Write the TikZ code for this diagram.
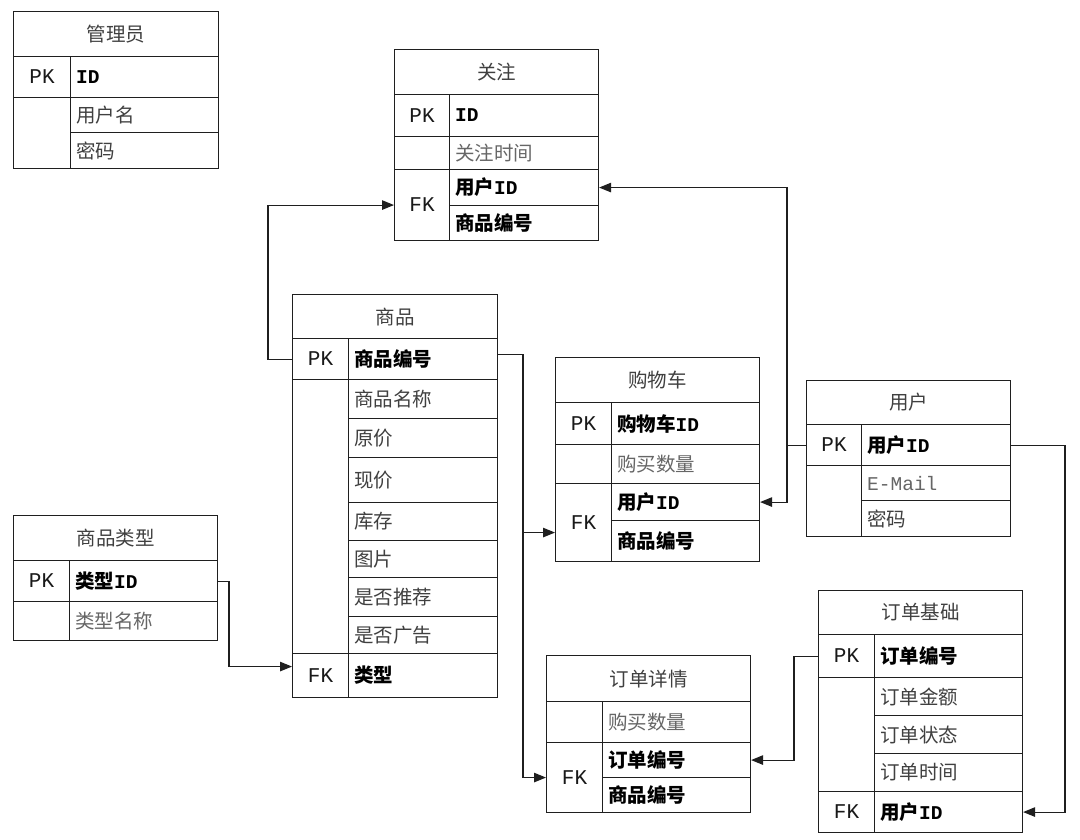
\documentclass[tikz,border=0pt]{standalone}
\usepackage{fontspec}
\setmainfont{Noto Sans CJK SC}
\newfontfamily\latf{Liberation Mono}[Scale=1.0]
\usetikzlibrary{arrows.meta,calc}
\newcommand\la[1]{{\latf #1}}
\tikzset{
  cellbox/.style={draw=black!88, line width=1.1pt, rectangle, inner sep=0pt, anchor=north west},
  ltxt/.style={anchor=west, inner sep=0pt, font=\fontsize{19.5}{22}\selectfont, text=black!75},
  ctxt/.style={anchor=center, inner sep=0pt, font=\fontsize{19.5}{22}\selectfont, text=black!75},
  keyt/.style={text=black!90, font=\fontsize{21}{24}\selectfont},
  bd/.style={text=black, font=\fontsize{19.5}{22}\selectfont\bfseries},
  lt/.style={text=black!60},
  fk/.style={draw=black!88, line width=1.1pt, -{Triangle[length=12pt,width=9.5pt]}},
}
\newcommand\ercL[7][]{\node[cellbox, minimum width={#5-#3}, minimum height={#6-#4}] (#2) at (#3,#4) {};
  \node[ltxt,#1] (#2-t) at ([xshift=6pt]#2.west) {#7};}
\newcommand\ercC[7][]{\node[cellbox, minimum width={#5-#3}, minimum height={#6-#4}] (#2) at (#3,#4) {};
  \node[ctxt,#1] (#2-t) at (#2.center) {#7};}
\newcommand\ercE[5]{\node[cellbox, minimum width={#4-#2}, minimum height={#5-#3}] (#1) at (#2,#3) {};}
\begin{document}
\begin{tikzpicture}[x=1pt,y=-1pt]
\useasboundingbox[fill=white] (0,0) rectangle (1080,839);

% 管理员
\ercC{gly}{13}{11}{218}{56}{管理员}
\ercC[keyt]{glyk1}{13}{56}{70}{97}{\la{PK}}
\ercL[bd]{glyf1}{70}{56}{218}{97}{\la{ID}}
\ercE{glyk2}{13}{97}{70}{168}
\ercL{glyf2}{70}{97}{218}{132}{用户名}
\ercL{glyf3}{70}{132}{218}{168}{密码}

% 关注
\ercC{gz}{394}{49}{598}{94}{关注}
\ercC[keyt]{gzk1}{394}{94}{449}{136}{\la{PK}}
\ercL[bd]{gzf1}{449}{94}{598}{136}{\la{ID}}
\ercE{gzk2}{394}{136}{449}{169}
\ercL[lt]{gzf2}{449}{136}{598}{169}{关注时间}
\ercC[keyt]{gzk3}{394}{169}{449}{240}{\la{FK}}
\ercL[bd]{gzf3}{449}{169}{598}{205}{用户\la{ID}}
\ercL[bd]{gzf4}{449}{205}{598}{240}{商品编号}

% 商品
\ercC{sp}{292}{294}{497}{338}{商品}
\ercC[keyt]{spk1}{292}{338}{348}{379}{\la{PK}}
\ercL[bd]{spf1}{348}{338}{497}{379}{商品编号}
\ercE{spk2}{292}{379}{348}{653}
\ercL{spf2}{348}{379}{497}{418}{商品名称}
\ercL{spf3}{348}{418}{497}{457}{原价}
\ercL{spf4}{348}{457}{497}{502}{现价}
\ercL{spf5}{348}{502}{497}{540}{库存}
\ercL{spf6}{348}{540}{497}{577}{图片}
\ercL{spf7}{348}{577}{497}{616}{是否推荐}
\ercL{spf8}{348}{616}{497}{653}{是否广告}
\ercC[keyt]{spk3}{292}{653}{348}{697}{\la{FK}}
\ercL[bd]{spf9}{348}{653}{497}{697}{类型}

% 购物车
\ercC{gwc}{555}{357}{759}{402}{购物车}
\ercC[keyt]{gwck1}{555}{402}{611}{444}{\la{PK}}
\ercL[bd]{gwcf1}{611}{402}{759}{444}{购物车\la{ID}}
\ercE{gwck2}{555}{444}{611}{483}
\ercL[lt]{gwcf2}{611}{444}{759}{483}{购买数量}
\ercC[keyt]{gwck3}{555}{483}{611}{561}{\la{FK}}
\ercL[bd]{gwcf3}{611}{483}{759}{520}{用户\la{ID}}
\ercL[bd]{gwcf4}{611}{520}{759}{561}{商品编号}

% 用户
\ercC{yh}{806}{380}{1010}{424}{用户}
\ercC[keyt]{yhk1}{806}{424}{861}{465}{\la{PK}}
\ercL[bd]{yhf1}{861}{424}{1010}{465}{用户\la{ID}}
\ercE{yhk2}{806}{465}{861}{536}
\ercL[lt]{yhf2}{861}{465}{1010}{500}{\la{E-Mail}}
\ercL{yhf3}{861}{500}{1010}{536}{密码}

% 商品类型
\ercC{splx}{13}{515}{217}{560}{商品类型}
\ercC[keyt]{splxk1}{13}{560}{69}{601}{\la{PK}}
\ercL[bd]{splxf1}{69}{560}{217}{601}{类型\la{ID}}
\ercE{splxk2}{13}{601}{69}{640}
\ercL[lt]{splxf2}{69}{601}{217}{640}{类型名称}

% 订单详情
\ercC{ddxq}{546}{655}{750}{701}{订单详情}
\ercE{ddxqk1}{546}{701}{602}{742}
\ercL[lt]{ddxqf1}{602}{701}{750}{742}{购买数量}
\ercC[keyt]{ddxqk2}{546}{742}{602}{812}{\la{FK}}
\ercL[bd]{ddxqf2}{602}{742}{750}{777}{订单编号}
\ercL[bd]{ddxqf3}{602}{777}{750}{812}{商品编号}

% 订单基础
\ercC{ddjc}{818}{590}{1022}{634}{订单基础}
\ercC[keyt]{ddjck1}{818}{634}{874}{677}{\la{PK}}
\ercL[bd]{ddjcf1}{874}{634}{1022}{677}{订单编号}
\ercE{ddjck2}{818}{677}{874}{791}
\ercL{ddjcf2}{874}{677}{1022}{715}{订单金额}
\ercL{ddjcf3}{874}{715}{1022}{753}{订单状态}
\ercL{ddjcf4}{874}{753}{1022}{791}{订单时间}
\ercC[keyt]{ddjck3}{818}{791}{874}{832}{\la{FK}}
\ercL[bd]{ddjcf5}{874}{791}{1022}{832}{用户\la{ID}}

% connectors
\coordinate (xa) at (268,0);
\coordinate (xb) at (523,0);
\coordinate (xc) at (229,0);
\coordinate (xd) at (787,0);
\coordinate (xe) at (1065,0);
\coordinate (xf) at (794,0);
\coordinate (gwcIn) at ($(gwck3.west)+(0,10)$);
\coordinate (spIn) at ($(spk3.west)+(0,-9)$);
\coordinate (spOut) at ($(spf1.east)+(0,-5)$);

\draw[fk] (spk1.west) -| (xa |- gzk3.west) -- (gzk3.west);
\draw[fk] (spOut) -| (xb |- ddxqk2.west) -- (ddxqk2.west);
\draw[fk] (xb |- gwcIn) -- (gwcIn);
\draw[fk] (splxf1.east) -| (xc |- spIn) -- (spIn);
\draw[fk] (yhk1.west) -| (xd |- gzf3.east) -- (gzf3.east);
\draw[fk] (xd |- yhk1.west) |- (gwcf3.east);
\draw[fk] (yhf1.east) -| (xe |- ddjcf5.east) -- (ddjcf5.east);
\draw[fk] (ddjck1.west) -| (xf |- ddxqf2.east) -- (ddxqf2.east);
\end{tikzpicture}
\end{document}
